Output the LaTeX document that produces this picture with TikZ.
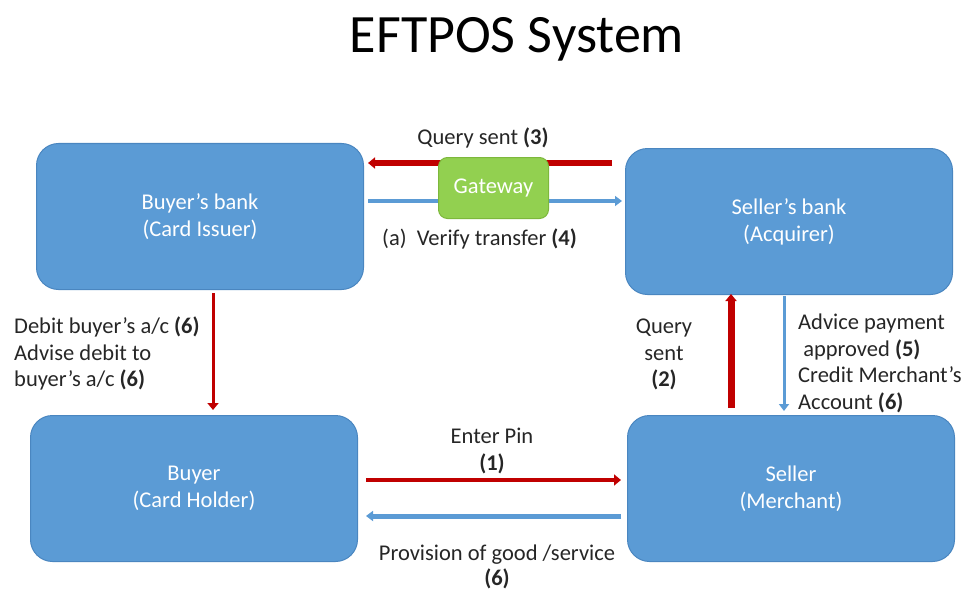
\documentclass[tikz,border=0pt]{standalone}
\usepackage{fontspec}
\setmainfont{Carlito}
\usetikzlibrary{arrows.meta}
\definecolor{boxblue}{HTML}{5B9BD5}
\definecolor{boxedge}{HTML}{4A86C0}
\definecolor{arrred}{HTML}{C00000}
\definecolor{gwgreen}{HTML}{92D050}
\definecolor{gwedge}{HTML}{7DB83C}
\definecolor{txt}{HTML}{262626}
\begin{document}
\begin{tikzpicture}[x=1pt,y=-1pt,
  ent/.style={draw=boxedge,line width=1pt,fill=boxblue,rounded corners=22pt,
    minimum width=327pt,minimum height=146pt,text=white,align=center,
    font=\fontsize{22.5}{27}\selectfont,anchor=north west,inner sep=0pt},
  gw/.style={draw=gwedge,line width=1pt,fill=gwgreen,rounded corners=9pt,
    minimum width=110pt,minimum height=61pt,text=white,
    font=\fontsize{22.5}{27}\selectfont,anchor=north west,inner sep=0pt},
  lbl/.style={text=txt,font=\fontsize{22.5}{26.5}\selectfont,inner sep=0pt},
  redar/.style={draw=arrred,-{Triangle[length=7pt,width=11pt]}},
  bluar/.style={draw=boxblue,-{Triangle[length=7pt,width=10pt]}}]
\useasboundingbox (0,0) rectangle (966,591);
\node[text=black,font=\fontsize{54}{58}\selectfont] (title) at (517,39) {EFTPOS System};

\node[ent] (bb) at (36,143) {Buyer’s bank\\(Card Issuer)};
\node[ent] (sb) at (625,148) {Seller’s bank\\(Acquirer)};
\node[ent] (bu) at (30,415) {Buyer\\(Card Holder)};
\node[ent] (se) at (627,415) {Seller\\(Merchant)};

% connector endpoints
\coordinate (q3s) at (612,163); \coordinate (q3e) at (368,163);
\coordinate (v4s) at (368,201); \coordinate (v4e) at (622,201);
\draw[redar,line width=6pt] (q3s) -- (q3e);
\draw[bluar,line width=4pt] (v4s) -- (v4e);
\node[gw] (gw) at (438,157) {Gateway};

\coordinate (d6s) at (213,293); \coordinate (d6e) at (213,410);
\draw[redar,line width=3pt] (d6s) -- (d6e);
\coordinate (q2s) at (731,408); \coordinate (q2e) at (731,294);
\draw[redar,line width=7pt] (q2s) -- (q2e);
\coordinate (a5s) at (784,296); \coordinate (a5e) at (784,411);
\draw[bluar,line width=3pt] (a5s) -- (a5e);
\coordinate (p1s) at (366,480); \coordinate (p1e) at (621,480);
\draw[redar,line width=4pt] (p1s) -- (p1e);
\coordinate (g6s) at (621,516); \coordinate (g6e) at (366,516);
\draw[bluar,line width=5pt] (g6s) -- (g6e);

\node[lbl] (lq3) at (483,138) {Query sent \textbf{(3)}};
\node[lbl,anchor=west] (lv4) at (382,239) {(a)\ \ Verify transfer \textbf{(4)}};
\node[lbl,anchor=north west,align=left] (ld6) at (14,317) {Debit buyer’s a/c \textbf{(6)}\\Advise debit to\\buyer’s a/c \textbf{(6)}};
\node[lbl,anchor=north,align=center] (lq2) at (664,319) {Query\\sent\\\textbf{(2)}};
\node[lbl,anchor=north west,align=left] (la5) at (798,314) {Advice payment\\\ approved \textbf{(5)}\\Credit Merchant’s\\Account \textbf{(6)}};
\node[lbl,anchor=north,align=center] (lp1) at (492,428) {Enter Pin\\\textbf{(1)}};
\node[lbl,anchor=north,align=center,font=\fontsize{22.5}{25}\selectfont] (lg6) at (497,545) {Provision of good /service\\\textbf{(6)}};
\end{tikzpicture}
\end{document}
